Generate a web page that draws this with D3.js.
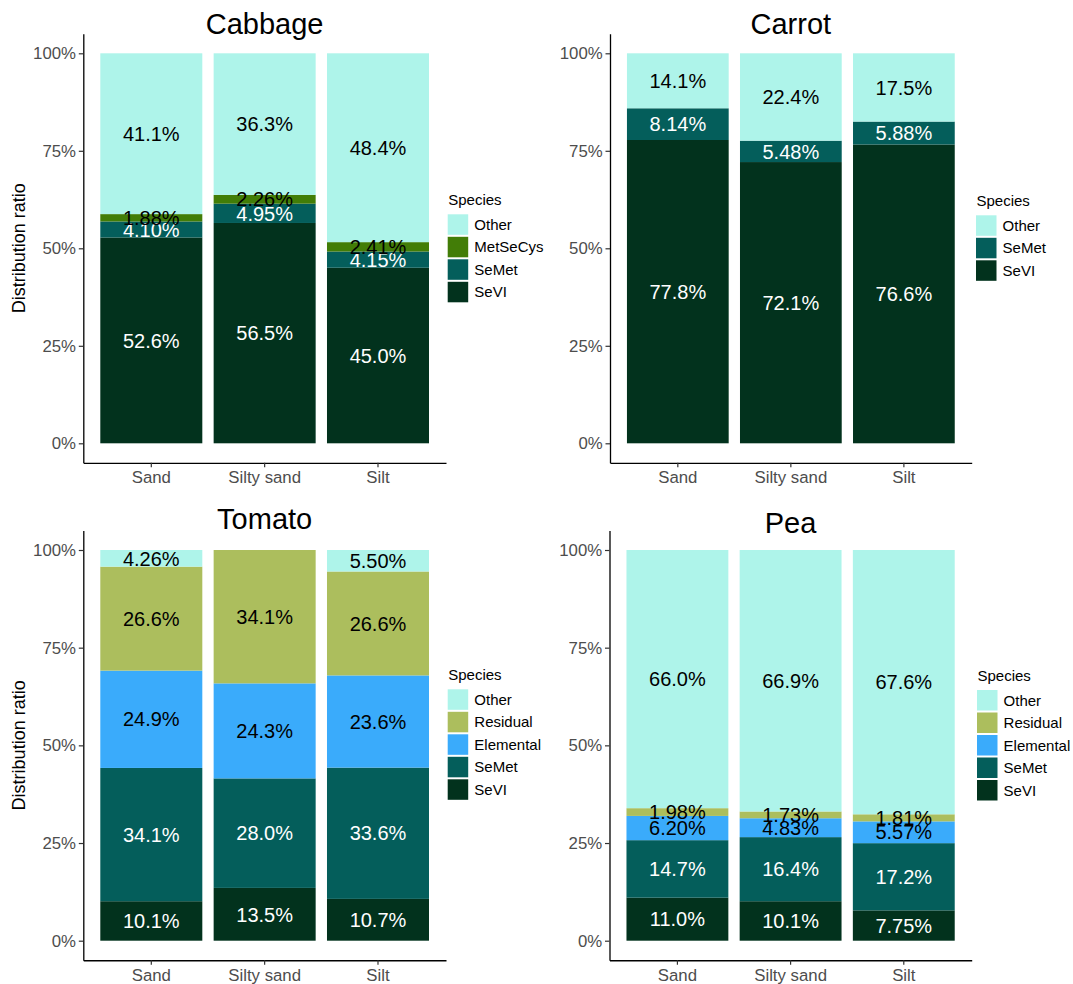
<!DOCTYPE html>
<html>
<head>
<meta charset="utf-8">
<script src="https://cdn.jsdelivr.net/npm/d3@7"></script>
<style>
  html, body { margin: 0; padding: 0; background: #fff; }
  svg { display: block; font-family: "Liberation Sans", Arial, sans-serif; }
</style>
</head>
<body>
<svg id="chart" width="1073" height="984"></svg>
<script>
// Soil types on the x axis
const soils = ["Sand", "Silty sand", "Silt"];
const yTicks = [0, 0.25, 0.5, 0.75, 1];

// Selenium species distribution (%) per soil: Sand, Silty sand, Silt
const cabbageSeVI     = [52.6, 56.5, 45.0];
const cabbageSeMet    = [4.10, 4.95, 4.15];
const cabbageMetSeCys = [1.88, 2.26, 2.41];
const cabbageOther    = [41.1, 36.3, 48.4];

const carrotSeVI  = [77.8, 72.1, 76.6];
const carrotSeMet = [8.14, 5.48, 5.88];
const carrotOther = [14.1, 22.4, 17.5];

const tomatoSeVI      = [10.1, 13.5, 10.7];
const tomatoSeMet     = [34.1, 28.0, 33.6];
const tomatoElemental = [24.9, 24.3, 23.6];
const tomatoResidual  = [26.6, 34.1, 26.6];
const tomatoOther     = [4.26, 0, 5.50];

const peaSeVI      = [11.0, 10.1, 7.75];
const peaSeMet     = [14.7, 16.4, 17.2];
const peaElemental = [6.20, 4.83, 5.57];
const peaResidual  = [1.98, 1.73, 1.81];
const peaOther     = [66.0, 66.9, 67.6];

const speciesColor = {
  Other: "#aef4ea",
  MetSeCys: "#427d07",
  Residual: "#acbe5d",
  Elemental: "#3aabfb",
  SeMet: "#045e5b",
  SeVI: "#02321d"
};
const lightText = new Set(["SeVI", "SeMet"]);

// Stack order is bottom to top
const panels = [
  { title: "Cabbage", series: [["SeVI", cabbageSeVI], ["SeMet", cabbageSeMet], ["MetSeCys", cabbageMetSeCys], ["Other", cabbageOther]],
    x0: 83.3, x1: 446, y100: 53.3, y0: 443.3, titleY: 34.3, legX: 447.7, legTop: 214.3, yTitle: true },
  { title: "Carrot", series: [["SeVI", carrotSeVI], ["SeMet", carrotSeMet], ["Other", carrotOther]],
    x0: 610, x1: 971.7, y100: 53.3, y0: 443.3, titleY: 34.3, legX: 976, legTop: 215.3, yTitle: false },
  { title: "Tomato", series: [["SeVI", tomatoSeVI], ["SeMet", tomatoSeMet], ["Elemental", tomatoElemental], ["Residual", tomatoResidual], ["Other", tomatoOther]],
    x0: 83.3, x1: 446, y100: 550, y0: 940.7, titleY: 529.3, legX: 447.7, legTop: 689.3, yTitle: true },
  { title: "Pea", series: [["SeVI", peaSeVI], ["SeMet", peaSeMet], ["Elemental", peaElemental], ["Residual", peaResidual], ["Other", peaOther]],
    x0: 609.5, x1: 971.7, y100: 550, y0: 940.7, titleY: 533.3, legX: 977, legTop: 690, yTitle: false }
];

const svg = d3.select("#chart");
const fmtLabel = d3.format(".3r");

panels.forEach(p => {
  const g = svg.append("g");
  const span = p.y0 - p.y100;
  const y = d3.scaleLinear().domain([-0.05, 1.05]).range([p.y0 + 0.05 * span, p.y100 - 0.05 * span]);
  const x = d3.scaleBand().domain(soils).range([p.x0, p.x1]).paddingInner(0.1).paddingOuter(0.15);

  // Build rows and normalise each bar to 100% (filled stack)
  const keys = p.series.map(s => s[0]);
  const rows = soils.map((soil, i) => {
    const row = { soil };
    p.series.forEach(([k, arr]) => row[k] = arr[i]);
    const total = d3.sum(keys, k => row[k]);
    keys.forEach(k => row[k + "_n"] = row[k] / total);
    return row;
  });
  const layers = d3.stack().keys(keys.map(k => k + "_n"))(rows);

  layers.forEach((layer, li) => {
    const sp = keys[li];
    g.append("g").selectAll("rect").data(layer).join("rect")
      .attr("x", d => x(d.data.soil))
      .attr("width", x.bandwidth())
      .attr("y", d => y(d[1]))
      .attr("height", d => Math.max(0, y(d[0]) - y(d[1])))
      .attr("fill", speciesColor[sp]);
  });

  // Value labels centred on each segment
  layers.forEach((layer, li) => {
    const sp = keys[li];
    g.append("g").selectAll("text").data(layer.filter(d => d.data[sp] > 0)).join("text")
      .attr("x", d => x(d.data.soil) + x.bandwidth() / 2)
      .attr("y", d => y((d[0] + d[1]) / 2))
      .attr("dy", "0.36em")
      .attr("text-anchor", "middle")
      .attr("font-size", 20)
      .attr("fill", lightText.has(sp) ? "#ffffff" : "#000000")
      .text(d => fmtLabel(d.data[sp]) + "%");
  });

  // Axes
  const yAxis = g.append("g").attr("transform", `translate(${p.x0},0)`)
    .call(d3.axisLeft(y).tickValues(yTicks).tickFormat(d3.format(".0%")).tickSize(4.5).tickPadding(2.8).tickSizeOuter(0));
  const xAxis = g.append("g").attr("transform", `translate(0,${y(-0.05)})`)
    .call(d3.axisBottom(x).tickSize(4.5).tickPadding(4.2).tickSizeOuter(0));
  [yAxis, xAxis].forEach(ax => {
    ax.select(".domain").attr("stroke", "#000").attr("stroke-width", 1.3);
    ax.selectAll(".tick line").attr("stroke", "#333").attr("stroke-width", 1.2);
    ax.selectAll(".tick text").attr("fill", "#4d4d4d").attr("font-size", 16.8)
      .attr("font-family", "'Liberation Sans', Arial, sans-serif");
  });

  // Panel title
  g.append("text")
    .attr("x", (p.x0 + p.x1) / 2).attr("y", p.titleY)
    .attr("text-anchor", "middle").attr("font-size", 29).attr("fill", "#000")
    .text(p.title);

  if (p.yTitle) {
    g.append("text")
      .attr("transform", `translate(19,${(y(-0.05) + y(1.05)) / 2}) rotate(-90)`)
      .attr("dy", "0.35em")
      .attr("text-anchor", "middle").attr("font-size", 18).attr("fill", "#000")
      .text("Distribution ratio");
  }

  // Legend (top entry is the top of the stack)
  const leg = g.append("g").attr("transform", `translate(${p.legX},${p.legTop})`);
  leg.append("text").attr("x", 0.5).attr("y", -9.3).attr("font-size", 15).attr("fill", "#000").text("Species");
  keys.slice().reverse().forEach((k, i) => {
    leg.append("rect").attr("x", 0).attr("y", i * 22.5).attr("width", 20.5).attr("height", 20.5)
      .attr("fill", speciesColor[k]);
    leg.append("text").attr("x", 26.6).attr("y", i * 22.5 + 10.2).attr("dy", "0.36em")
      .attr("font-size", 15).attr("fill", "#000").text(k);
  });
});
</script>
</body>
</html>
